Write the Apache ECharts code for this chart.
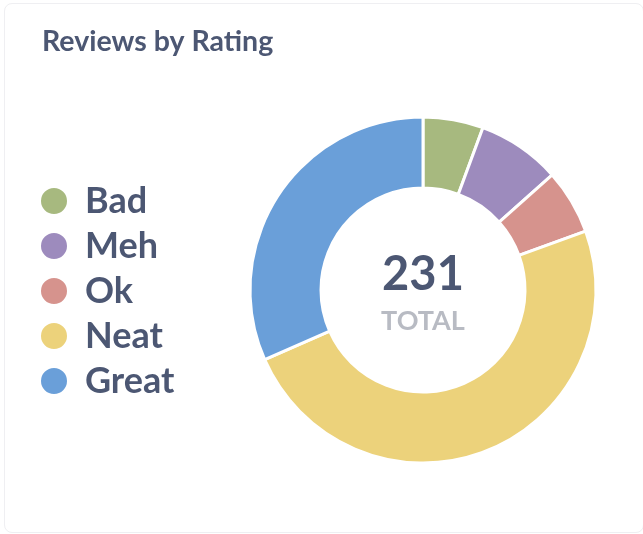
<!DOCTYPE html>
<html>
<head>
<meta charset="utf-8">
<script src="https://cdn.jsdelivr.net/npm/echarts@6/dist/echarts.min.js"></script>
<style>
  html, body { margin: 0; padding: 0; background: #fff; }
  .card {
    position: absolute; left: 4px; top: 3px; width: 638px; height: 528px;
    border: 1px solid #efeff2; border-radius: 8px; background: #fff;
  }
  #chart { position: absolute; left: 0; top: 0; width: 643px; height: 534px; }
</style>
</head>
<body>
<div class="card"></div>
<div id="chart"></div>
<script>
const categories = ['Bad', 'Meh', 'Ok', 'Neat', 'Great']
const values = [13, 18, 14, 113, 73]
const colors = ['#a7b97f', '#9d8bbd', '#d6938d', '#ecd27b', '#6a9fd9']
const totalLabel = 'TOTAL'

let total = 0
for (let i = 0; i < values.length; i++) total += values[i]

let chart = echarts.init(document.getElementById('chart'))
chart.setOption({
  animation: false,
  color: colors,
  title: {
    text: 'Reviews by Rating',
    left: 37,
    top: 22,
    textStyle: { fontFamily: 'Lato', fontWeight: 'bold', fontSize: 28.5, color: '#4c5773' }
  },
  legend: {
    orient: 'vertical',
    left: 34,
    top: 178,
    icon: 'circle',
    itemWidth: 28,
    itemHeight: 28,
    itemGap: 9,
    selectedMode: false,
    textStyle: { fontFamily: 'Lato', fontWeight: 'bold', fontSize: 36, color: '#4c5773', padding: [0, 0, 0, 12] },
    data: categories
  },
  graphic: [
    {
      type: 'text', x: 423, y: 275,
      style: { text: String(total), font: 'bold 47px Lato', fill: '#4c5773', textAlign: 'center', textVerticalAlign: 'middle' }
    },
    {
      type: 'text', x: 423, y: 321,
      style: { text: totalLabel, font: 'bold 27px Lato', fill: '#b8bbc3', textAlign: 'center', textVerticalAlign: 'middle' }
    }
  ],
  series: [
    {
      type: 'pie',
      center: [423, 290],
      radius: [102, 173],
      startAngle: 90,
      clockwise: true,
      label: { show: false },
      labelLine: { show: false },
      emphasis: { disabled: true },
      itemStyle: { borderColor: '#fff', borderWidth: 3 },
      data: categories.map((c, i) => ({ name: c, value: values[i] }))
    }
  ]
})
</script>
</body>
</html>
